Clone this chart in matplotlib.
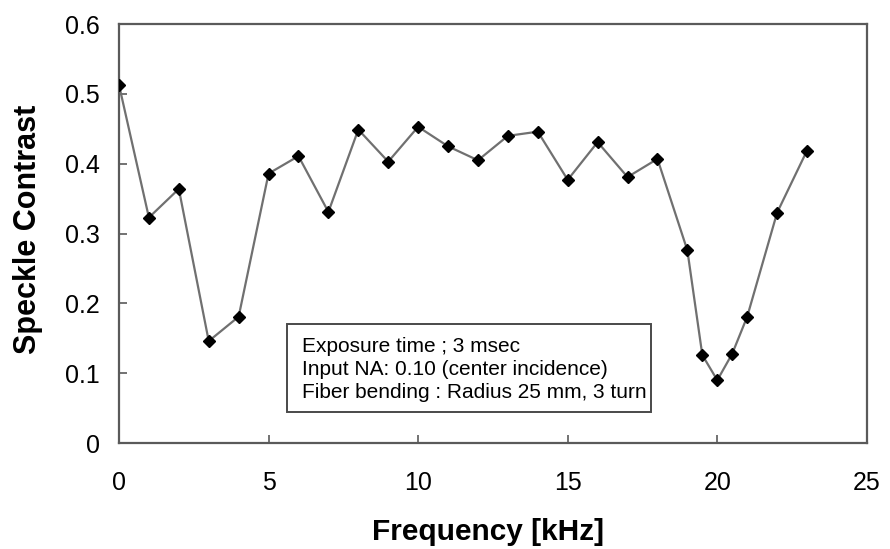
import matplotlib.pyplot as plt
from matplotlib.patches import Rectangle

plt.rcParams['font.family'] = ['Liberation Sans', 'DejaVu Sans']

# speckle contrast vs. modulation frequency
freq_khz = [0, 1, 2, 3, 4, 5, 6, 7, 8, 9, 10, 11, 12, 13, 14, 15, 16, 17, 18,
            19, 19.5, 20, 20.5, 21, 22, 23]
contrast = [0.513, 0.323, 0.364, 0.146, 0.181, 0.386, 0.411, 0.331, 0.449, 0.403,
            0.453, 0.425, 0.405, 0.440, 0.446, 0.377, 0.431, 0.381, 0.407,
            0.276, 0.126, 0.090, 0.128, 0.181, 0.330, 0.419]
x_ticks = [0, 5, 10, 15, 20, 25]
y_ticks = [0, 0.1, 0.2, 0.3, 0.4, 0.5, 0.6]
y_ticklabels = ['0', '0.1', '0.2', '0.3', '0.4', '0.5', '0.6']
note = ("Exposure time ; 3 msec\n"
        "Input NA: 0.10 (center incidence)\n"
        "Fiber bending : Radius 25 mm, 3 turn")

fig = plt.figure(figsize=(8.9, 5.49), dpi=100)
ax = fig.add_axes([0.1337, 0.193, 0.8403, 0.763])

ax.plot(freq_khz, contrast, color='#707070', lw=1.6, zorder=2)
ax.plot(freq_khz, contrast, ls='none', marker='D', ms=6.5, color='black', zorder=3)

ax.set_xlim(0, 25)
ax.set_ylim(0, 0.6)
ax.set_xticks(x_ticks)
ax.set_yticks(y_ticks)
ax.set_yticklabels(y_ticklabels)

for sp in ax.spines.values():
    sp.set_color('#5a5a5a')
    sp.set_linewidth(1.6)

ax.tick_params(axis='both', direction='in', length=6, width=1.2, color='#5a5a5a',
               labelsize=18)
ax.tick_params(axis='y', pad=14)
ax.tick_params(axis='x', pad=20)

ax.set_xlabel('Frequency [kHz]', fontsize=21.5, fontweight='bold')
ax.set_ylabel('Speckle Contrast', fontsize=22, fontweight='bold')
ax.xaxis.set_label_coords(0.493, -0.178)
ax.yaxis.set_label_coords(-0.101, 0.51)

# framed note with the measurement conditions
ax.add_patch(Rectangle((0.2246, 0.074), 0.4866, 0.21, transform=ax.transAxes,
                       facecolor='white', edgecolor='#4a4a4a', linewidth=1.4,
                       zorder=4))
ax.text(0.2447, 0.176, note, transform=ax.transAxes, ha='left', va='center',
        fontsize=15, linespacing=1.25, zorder=5)

fig.savefig('out.png', dpi=100)
